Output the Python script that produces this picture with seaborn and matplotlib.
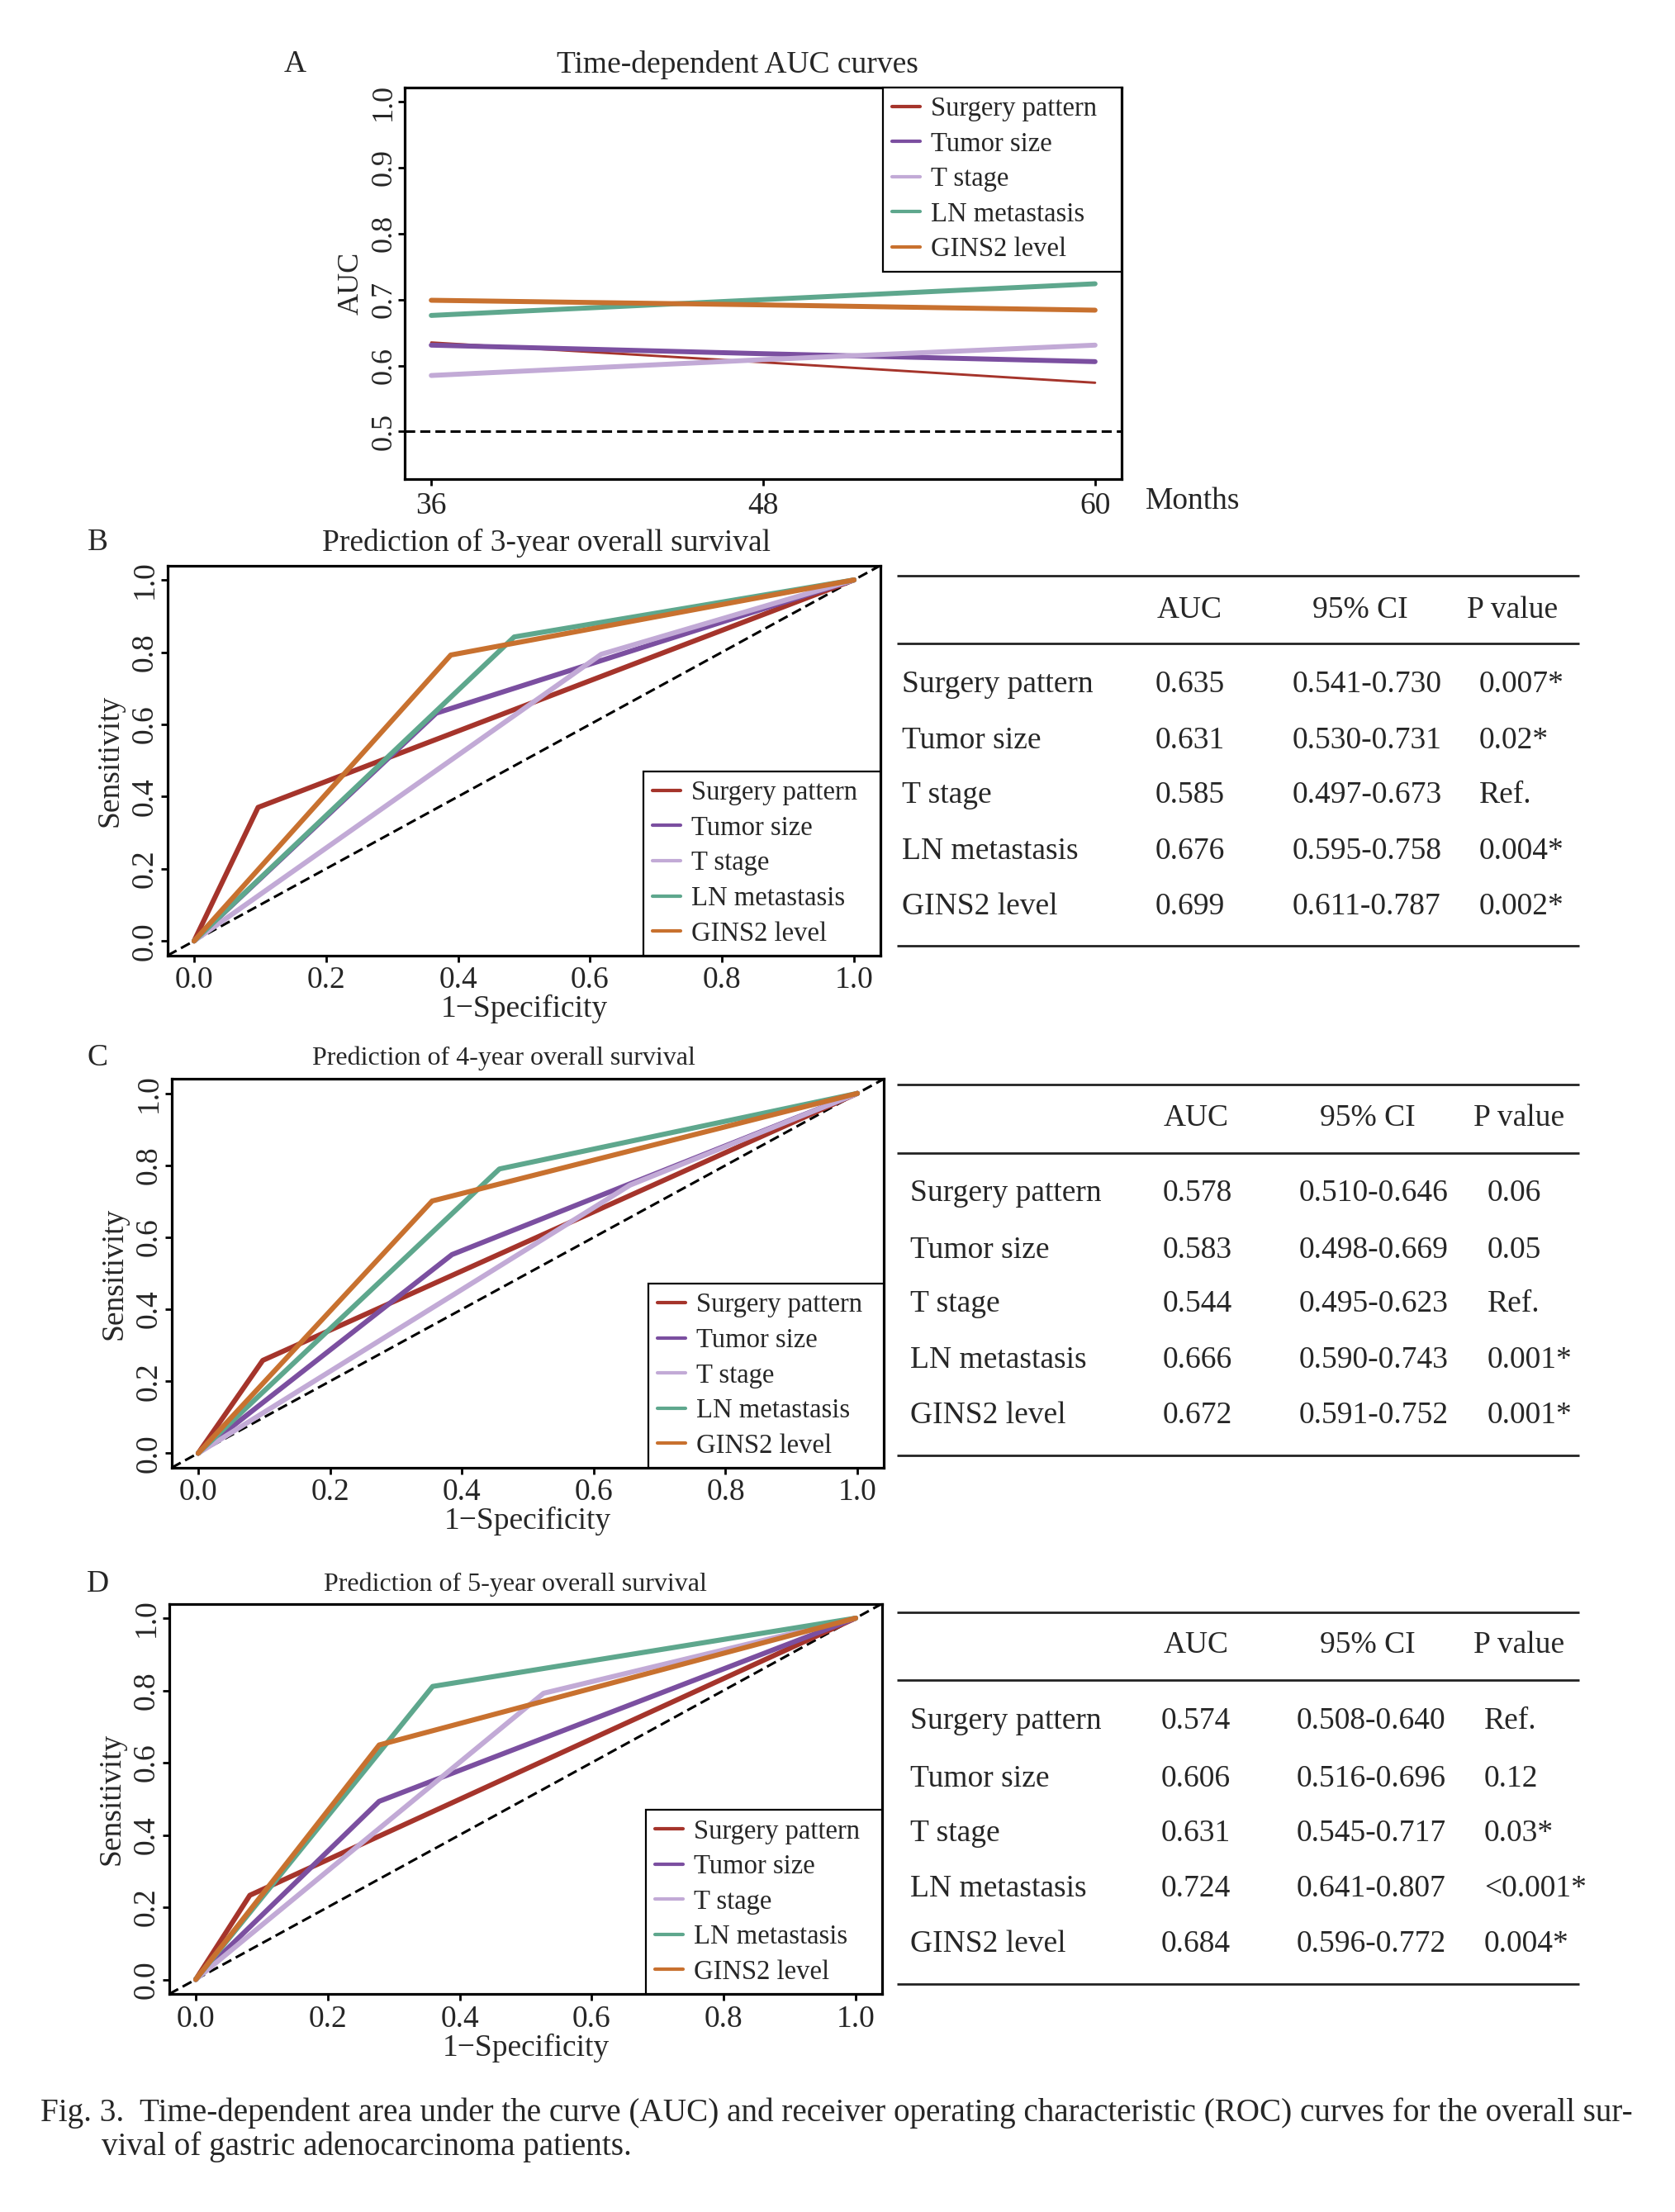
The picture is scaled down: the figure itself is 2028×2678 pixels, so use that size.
import numpy as np
import pandas as pd
import seaborn as sns
import matplotlib.pyplot as plt

sns.set_theme(style="ticks")
plt.rcParams['font.family'] = ['Liberation Serif', 'DejaVu Serif']

# ---------------- datos ----------------
series = ["Surgery pattern", "Tumor size", "T stage", "LN metastasis", "GINS2 level"]
colors = ["#A5342B", "#7B4FA0", "#C2AAD6", "#5EA78D", "#C8712F"]

# Panel A: AUC dependiente del tiempo
months = [36, 48, 60]
auc_surgery = [0.635, 0.605, 0.574]
auc_tumor = [0.631, 0.618, 0.606]
auc_tstage = [0.585, 0.609, 0.631]
auc_ln = [0.676, 0.700, 0.724]
auc_gins2 = [0.699, 0.692, 0.684]

# Paneles B-D: punto de corte de cada curva ROC (variables binarias)
fpr_3y = [0.097, 0.367, 0.617, 0.485, 0.389]
tpr_3y = [0.370, 0.631, 0.794, 0.842, 0.792]
fpr_4y = [0.098, 0.385, 0.655, 0.457, 0.355]
tpr_4y = [0.258, 0.552, 0.745, 0.790, 0.701]
fpr_5y = [0.082, 0.278, 0.527, 0.359, 0.278]
tpr_5y = [0.233, 0.493, 0.792, 0.811, 0.649]

# Tablas
auc_3y = ["0.635", "0.631", "0.585", "0.676", "0.699"]
ci_3y = ["0.541-0.730", "0.530-0.731", "0.497-0.673", "0.595-0.758", "0.611-0.787"]
p_3y = ["0.007*", "0.02*", "Ref.", "0.004*", "0.002*"]
auc_4y = ["0.578", "0.583", "0.544", "0.666", "0.672"]
ci_4y = ["0.510-0.646", "0.498-0.669", "0.495-0.623", "0.590-0.743", "0.591-0.752"]
p_4y = ["0.06", "0.05", "Ref.", "0.001*", "0.001*"]
auc_5y = ["0.574", "0.606", "0.631", "0.724", "0.684"]
ci_5y = ["0.508-0.640", "0.516-0.696", "0.545-0.717", "0.641-0.807", "0.596-0.772"]
p_5y = ["Ref.", "0.12", "0.03*", "<0.001*", "0.004*"]

caption1 = ("Fig. 3.  Time-dependent area under the curve (AUC) and receiver operating "
            "characteristic (ROC) curves for the overall sur-")
caption2 = "vival of gastric adenocarcinoma patients."

# ---------------- figura ----------------
W, H = 2028, 2678
fig = plt.figure(figsize=(W / 100, H / 100), dpi=100)
fig.patch.set_facecolor("white")


def rect(l, t, r, b):
    return [l / W, 1 - b / H, (r - l) / W, (b - t) / H]


def style_axes(ax, xfs=27, yfs=27, ypad=1.5, xpad=3.6):
    for sp in ax.spines.values():
        sp.set_visible(True)
        sp.set_linewidth(2.3)
        sp.set_color("black")
    ax.tick_params(axis="both", direction="out", length=5.8, width=2.0, color="black")
    ax.tick_params(axis="x", labelsize=xfs, pad=xpad)
    ax.tick_params(axis="y", labelsize=yfs, pad=ypad)
    ax.set_facecolor("white")
    ax.grid(False)


def add_legend(ax, x0, loc):
    leg = ax.legend(loc=loc, bbox_to_anchor=(x0, 0, 1 - x0, 1), mode="expand",
                    frameon=True, fancybox=False, edgecolor="black", framealpha=1,
                    borderaxespad=0, fontsize=23.5, handlelength=1.05,
                    handletextpad=0.4, labelspacing=0.37, borderpad=0.34)
    for line in leg.get_lines():
        line.set_linewidth(3.0)
        line.set_solid_capstyle("round")
    leg.get_frame().set_linewidth(1.6)
    return leg


# ------------------------ Panel A ------------------------
axA = fig.add_axes(rect(490, 105.5, 1358, 580))
auc_series = [auc_surgery, auc_tumor, auc_tstage, auc_ln, auc_gins2]
widths = [2.1, 4.3, 4.3, 4.3, 4.3]
for name, vals, col, lw in zip(series, auc_series, colors, widths):
    sns.lineplot(x=months, y=vals, color=col, lw=lw, label=name, ax=axA,
                 sort=False, solid_capstyle="round")
axA.axhline(0.5, color="black", ls=(0, (4, 2)), lw=2.2, zorder=1)
axA.set_xlim(35.04, 60.96)
axA.set_ylim(0.428, 1.022)
axA.set_xticks(months, labels=[str(m) for m in months])
yt = [0.5, 0.6, 0.7, 0.8, 0.9, 1.0]
axA.set_yticks(yt, labels=[f"{v:.1f}" for v in yt], rotation=90, va="center")
style_axes(axA, xfs=27, yfs=26, ypad=0.5, xpad=5)
axA.set_xlabel("")
axA.set_ylabel("AUC", fontsize=26, labelpad=5)
add_legend(axA, 0.667, "upper right")

# ------------------------ Paneles ROC ------------------------
roc_panels = [
    (rect(203, 684.6, 1066, 1156.7), fpr_3y, tpr_3y, 0.6674),
    (rect(208, 1306.3, 1070, 1776.8), fpr_4y, tpr_4y, 0.669),
    (rect(205, 1941.5, 1068, 2414), fpr_5y, tpr_5y, 0.6686),
]
ticks = [0.0, 0.2, 0.4, 0.6, 0.8, 1.0]
for pos, fpr, tpr, lx in roc_panels:
    ax = fig.add_axes(pos)
    ax.axline((0, 0), (1, 1), color="black", ls=(0, (4, 2)), lw=2.2, zorder=1)
    for name, col, fx, ty in zip(series, colors, fpr, tpr):
        df = pd.DataFrame({"fpr": [0, fx, 1], "tpr": [0, ty, 1]})
        sns.lineplot(data=df, x="fpr", y="tpr", color=col, lw=4.4, label=name,
                     ax=ax, sort=False, estimator=None, solid_capstyle="round",
                     solid_joinstyle="round", zorder=2)
    ax.set_xlim(-0.04, 1.04)
    ax.set_ylim(-0.04, 1.04)
    ax.set_xticks(ticks, labels=[f"{v:.1f}" for v in ticks])
    ax.set_yticks(ticks, labels=[f"{v:.1f}" for v in ticks], rotation=90, va="center")
    style_axes(ax)
    ax.set_xlabel("1\u2212Specificity", fontsize=27, labelpad=0)
    ax.set_ylabel("Sensitivity", fontsize=27, labelpad=6)
    add_legend(ax, lx, "lower right")

# ------------------------ Textos, tablas, pie ------------------------
ov = fig.add_axes([0, 0, 1, 1])
ov.set_xlim(0, W)
ov.set_ylim(H, 0)
ov.axis("off")

ov.text(893, 78, "Time-dependent AUC curves", fontsize=27, ha="center", va="center")
ov.text(661, 657, "Prediction of 3-year overall survival", fontsize=27, ha="center", va="center")
ov.text(610, 1281, "Prediction of 4-year overall survival", fontsize=23, ha="center", va="center")
ov.text(624, 1918, "Prediction of 5-year overall survival", fontsize=23, ha="center", va="center")
for letter, x, y in [("A", 357, 78), ("B", 118, 657), ("C", 118, 1281), ("D", 118, 1918)]:
    ov.text(x, y, letter, fontsize=27, ha="center", va="center")
ov.text(1387, 607, "Months", fontsize=27, ha="left", va="center")

tables = [
    # lineas (arriba, cabecera, abajo), y cabecera, y filas, x columnas, x cabecera, datos
    ((696.7, 779.3, 1145), 738.3, [828.3, 896.7, 962.7, 1030.7, 1097.3],
     (1092, 1399, 1565, 1791), (1440, 1647, 1775.5), auc_3y, ci_3y, p_3y),
    ((1313.3, 1396, 1761.7), 1353.3, [1445, 1513.3, 1578.3, 1646.7, 1713.3],
     (1102, 1407.5, 1573, 1801), (1448, 1656, 1784), auc_4y, ci_4y, p_4y),
    ((1951.7, 2034.3, 2401.7), 1991.7, [2083.3, 2153.3, 2219.3, 2286.7, 2353.3],
     (1102, 1406, 1570, 1797), (1448, 1656, 1784), auc_5y, ci_5y, p_5y),
]
for lines, hy, rows, cx, hx, aucs, cis, ps in tables:
    for y in lines:
        ov.plot([1085.5, 1912.4], [y, y], color="#222222", lw=2.0, solid_capstyle="butt")
    ov.text(hx[0], hy, "AUC", fontsize=27, ha="center", va="center")
    ov.text(hx[1], hy, "95% CI", fontsize=27, ha="center", va="center")
    ov.text(hx[2], hy, "P value", fontsize=27, ha="left", va="center")
    for y, name, a, c, p in zip(rows, series, aucs, cis, ps):
        ov.text(cx[0], y, name, fontsize=27, ha="left", va="center")
        ov.text(cx[1], y, a, fontsize=27, ha="left", va="center")
        ov.text(cx[2], y, c, fontsize=27, ha="left", va="center")
        ov.text(cx[3], y, p, fontsize=27, ha="left", va="center")

ov.text(49, 2558, caption1, fontsize=28.2, ha="left", va="center")
ov.text(123, 2599, caption2, fontsize=28.2, ha="left", va="center")

plt.savefig("out.png", dpi=100)
plt.close(fig)
